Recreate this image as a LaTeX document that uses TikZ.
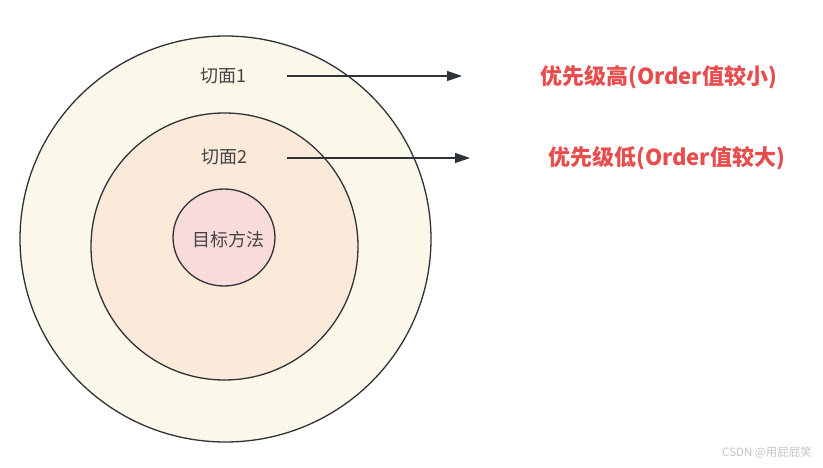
\documentclass[tikz,border=0pt]{standalone}
\usepackage{fontspec}
\setmainfont{Noto Sans CJK SC}
\newfontfamily\cjk{Noto Sans CJK SC}
\usetikzlibrary{shapes.geometric,arrows.meta}
\definecolor{ringA}{HTML}{FBF7E9}
\definecolor{ringB}{HTML}{FBE9DA}
\definecolor{ringC}{HTML}{F9DBDA}
\definecolor{edgeC}{HTML}{2E3338}
\definecolor{txtC}{HTML}{444444}
\definecolor{redC}{HTML}{E84C4C}
\definecolor{wmC}{HTML}{C4C4C4}
\tikzset{
  ring/.style={ellipse, draw=edgeC, line width=1.3pt, inner sep=0pt},
  lbl/.style={font=\cjk\fontsize{18}{21}\selectfont, text=txtC, inner sep=0pt},
  redlbl/.style={font=\cjk\bfseries\fontsize{22}{26}\selectfont, text=redC, inner sep=0pt},
  arr/.style={draw=edgeC, line width=1.3pt, -{Triangle[length=15pt,width=10pt]}},
}
\begin{document}
\begin{tikzpicture}[x=1pt,y=-1pt]
\useasboundingbox[fill=white] (0,0) rectangle (823,468);
\node[ring, fill=ringA, minimum width=411pt, minimum height=406pt] (outer) at (225.5,239) {};
\node[ring, fill=ringB, minimum width=267pt, minimum height=267pt] (middle) at (224.5,246.5) {};
\node[ring, fill=ringC, minimum width=102pt, minimum height=97pt] (inner) at (224,237.5) {};
\node[lbl] (target) at (228,240) {目标方法};
\node[lbl] (l1) at (223,76) {切面1};
\node[lbl] (l2) at (224,157) {切面2};
\coordinate (a1s) at (287,76);
\coordinate (a1e) at (462,76);
\coordinate (a2s) at (287,158);
\coordinate (a2e) at (470,158);
\draw[arr] (a1s) -- (a1e);
\draw[arr] (a2s) -- (a2e);
\node[redlbl, anchor=west] (r1) at (540,77) {优先级高(Order值较小)};
\node[redlbl, anchor=west] (r2) at (548,158) {优先级低(Order值较大)};
\node[font=\cjk\fontsize{11.5}{14}\selectfont, text=wmC, anchor=east, inner sep=0pt] (wm) at (812,453) {CSDN @用屁屁笑};
\end{tikzpicture}
\end{document}
